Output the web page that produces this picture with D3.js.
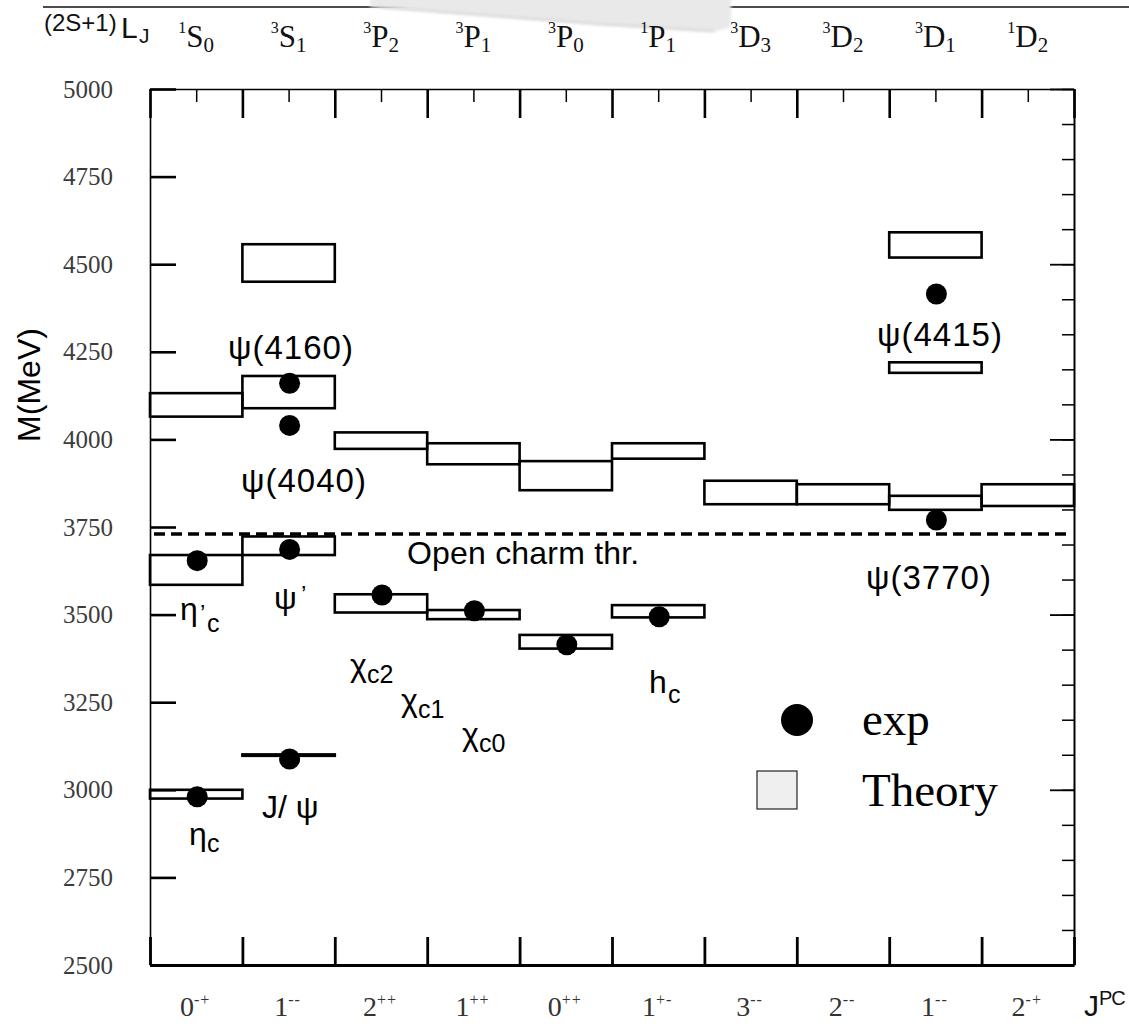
<!DOCTYPE html>
<html>
<head>
<meta charset="utf-8">
<script src="https://cdn.jsdelivr.net/npm/d3@7/dist/d3.min.js"></script>
<style>
  html, body { margin: 0; padding: 0; background: #fff; }
  svg { display: block; }
</style>
</head>
<body>
<svg id="chart" width="1129" height="1024"></svg>
<script>
// Charmonium spectrum: measured masses (dots) against predicted ranges (boxes)

// spectroscopic header: ^(2S+1) L _J
const waveSup = ["1", "3", "3", "3", "3", "1", "3", "3", "3", "1"];
const waveL   = ["S", "S", "P", "P", "P", "P", "D", "D", "D", "D"];
const waveJ   = ["0", "1", "2", "1", "0", "1", "3", "2", "1", "2"];

// J^PC labels along the bottom
const jpcJ  = ["0", "1", "2", "1", "0", "1", "3", "2", "1", "2"];
const jpcPC = ["-+", "--", "++", "++", "++", "+-", "--", "--", "--", "-+"];

// mass axis (MeV)
const yTicks = [2500, 2750, 3000, 3250, 3500, 3750, 4000, 4250, 4500, 4750, 5000];
const yMinorTicks = d3.range(2500, 5001, 100);
const yMajorRight = [2500, 3000, 3500, 4000, 4500, 5000];

// predicted mass ranges: [column, low, high]
const theory = [
  [0, 2975, 3000], [0, 3585, 3670], [0, 4065, 4132],
  [1, 3097, 3101], [1, 3670, 3723], [1, 4089, 4181], [1, 4450, 4557],
  [2, 3506, 3558], [2, 3973, 4020],
  [3, 3487, 3513], [3, 3929, 3989],
  [4, 3403, 3442], [4, 3855, 3938],
  [5, 3492, 3527], [5, 3945, 3989],
  [6, 3815, 3882],
  [7, 3815, 3872],
  [8, 3799, 3839], [8, 4190, 4220], [8, 4519, 4591],
  [9, 3810, 3872]
];

// measured states: column and mass
const expCol  = [0, 0, 1, 1, 1, 1, 2, 3, 4, 5, 8, 8];
const expMass = [2980, 3654, 3088, 3686, 4040, 4160, 3556, 3511, 3414, 3494, 3770, 4415];

const openCharm = 3730;

const SERIF = '"Liberation Serif", "Times New Roman", Times, serif';
const SANS = '"Liberation Sans", Arial, Helvetica, sans-serif';

const svg = d3.select("#chart");

const x = d3.scaleLinear().domain([0, 10]).range([150, 1074]);
const y = d3.scaleLinear().domain([2500, 5000]).range([965, 89]);
const cx = i => x(i + 0.5);

// top rule with a faint shadow across it
const defs = svg.append("defs");
defs.append("filter").attr("id", "soft")
  .append("feGaussianBlur").attr("stdDeviation", 1.8);
svg.append("line")
  .attr("x1", 43).attr("x2", 1129).attr("y1", 7).attr("y2", 7)
  .attr("stroke", "#111").attr("stroke-width", 1.6);
svg.append("path")
  .attr("d", "M370,-4 L731,-4 L731,27 L714,32 L600,25 L470,15 L370,7 Z")
  .attr("fill", "#e9e9e9").attr("filter", "url(#soft)");
svg.append("path")
  .attr("d", "M378,7 L470,14 L600,24 L714,31")
  .attr("fill", "none").attr("stroke", "#cfcfcf").attr("stroke-width", 1.5)
  .attr("filter", "url(#soft)");

// header: (2S+1)L_J
const hdr = svg.append("text").style("font-family", SANS).attr("fill", "#111");
hdr.append("tspan").attr("x", 44).attr("y", 31).attr("font-size", 24).text("(2S+1)");
hdr.append("tspan").attr("x", 121).attr("y", 38).attr("font-size", 30).text("L");
hdr.append("tspan").attr("x", 139).attr("y", 43).attr("font-size", 21).text("J");

// spectroscopic labels per column
const waves = svg.append("g").style("font-family", SERIF).attr("fill", "#111");
d3.range(10).forEach(i => {
  const t = waves.append("text").attr("x", cx(i)).attr("y", 33).attr("text-anchor", "middle")
    .style("font-family", SERIF);
  t.append("tspan").attr("font-size", 16).text(waveSup[i]);
  t.append("tspan").attr("font-size", 31).attr("dy", 14).text(waveL[i]);
  t.append("tspan").attr("font-size", 21).attr("dy", 5).text(waveJ[i]);
});

// axes
function styleAxis(g, w) {
  g.selectAll(".domain").attr("stroke", "#000").attr("stroke-width", w);
  g.selectAll(".tick line").attr("stroke", "#000");
}

const axLeft = svg.append("g").attr("transform", "translate(150,0)")
  .call(d3.axisLeft(y).tickValues(yTicks).tickSize(-26).tickSizeOuter(0).tickPadding(37)
    .tickFormat(d3.format("d")));
styleAxis(axLeft, 1.6);
axLeft.selectAll(".tick line").attr("stroke-width", 2.6);
axLeft.selectAll(".tick text")
  .style("font-family", SERIF).style("font-size", "25px")
  .attr("fill", "#3c3c3c").attr("dy", "0.32em");

const axRight = svg.append("g").attr("transform", "translate(1074,0)");
axRight.append("g")
  .call(d3.axisRight(y).tickValues(yMinorTicks).tickSize(-12).tickSizeOuter(0).tickFormat(""))
  .call(g => styleAxis(g, 2))
  .selectAll(".tick line").attr("stroke-width", 1.5);
axRight.append("g")
  .call(d3.axisRight(y).tickValues(yMajorRight).tickSize(-24).tickSizeOuter(0).tickFormat(""))
  .call(g => g.select(".domain").remove())
  .selectAll(".tick line").attr("stroke", "#000").attr("stroke-width", 1.8);

const axTop = svg.append("g").attr("transform", "translate(0,89)");
axTop.append("g")
  .call(d3.axisTop(x).tickValues(d3.range(0.5, 10, 1)).tickSize(-13).tickSizeOuter(0).tickFormat(""))
  .call(g => styleAxis(g, 1.6))
  .selectAll(".tick line").attr("stroke-width", 1.5);
axTop.append("g")
  .call(d3.axisTop(x).tickValues(d3.range(0, 11)).tickSize(-29).tickSizeOuter(0).tickFormat(""))
  .call(g => g.select(".domain").remove())
  .selectAll(".tick line").attr("stroke", "#000").attr("stroke-width", 2.6);

const axBottom = svg.append("g").attr("transform", "translate(0,965)")
  .call(d3.axisBottom(x).tickValues(d3.range(0, 11)).tickSize(-28).tickSizeOuter(0).tickFormat(""));
styleAxis(axBottom, 3);
axBottom.selectAll(".tick line").attr("stroke-width", 2.8);

// J^PC labels
const jpc = svg.append("g").style("font-family", SERIF).attr("fill", "#333");
d3.range(10).forEach(i => {
  const t = jpc.append("text").attr("x", cx(i) - 1).attr("y", 1016).attr("text-anchor", "middle")
    .style("font-family", SERIF);
  t.append("tspan").attr("font-size", 28).text(jpcJ[i]);
  t.append("tspan").attr("font-size", 16).attr("dy", -11).attr("letter-spacing", 1).text(jpcPC[i]);
});
const jpcTitle = svg.append("text").style("font-family", SANS).attr("fill", "#111");
jpcTitle.append("tspan").attr("x", 1084).attr("y", 1016).attr("font-size", 30).text("J");
jpcTitle.append("tspan").attr("font-size", 20).attr("dy", -11).attr("letter-spacing", -1).text("PC");

// y title
svg.append("text").style("font-family", SANS)
  .attr("transform", "translate(40,385) rotate(-90)")
  .attr("text-anchor", "middle").attr("font-size", 32).attr("fill", "#000")
  .text("M(MeV)");

// open-charm threshold
svg.append("line")
  .attr("x1", 154).attr("x2", 1072).attr("y1", y(openCharm)).attr("y2", y(openCharm))
  .attr("stroke", "#000").attr("stroke-width", 3.6).attr("stroke-dasharray", "11,6");

// theory boxes
svg.append("g").selectAll("rect").data(theory).join("rect")
  .attr("x", d => x(d[0])).attr("width", x(1) - x(0))
  .attr("y", d => y(d[2])).attr("height", d => y(d[1]) - y(d[2]))
  .attr("fill", "none").attr("stroke", "#000").attr("stroke-width", 2.6);

// measured states
svg.append("g").selectAll("circle").data(expMass).join("circle")
  .attr("cx", (d, i) => cx(expCol[i]) + 1).attr("cy", d => y(d)).attr("r", 10.5)
  .attr("fill", "#000");

// state names
const names = svg.append("g").style("font-family", SANS).attr("fill", "#000");
function label(xp, yp, main, size, spacing) {
  return names.append("text").attr("x", xp).attr("y", yp).attr("font-size", size)
    .attr("letter-spacing", spacing || 0).style("font-family", SANS).text(main);
}
function part(xp, yp, txt, size) {
  return names.append("text").attr("x", xp).attr("y", yp).attr("font-size", size)
    .style("font-family", SANS).text(txt);
}
label(228, 359, "ψ(4160)", 33, 1);
label(241, 492, "ψ(4040)", 33, 1);
label(877, 346, "ψ(4415)", 33, 1);
label(866, 589, "ψ(3770)", 33, 1);
label(407, 564, "Open charm thr.", 32, 0.2);

// eta'_c
part(180, 620, "η", 32);
part(200, 622, "’", 24);
part(207, 632, "c", 25);
// psi'
part(274, 609, "ψ", 32);
part(301, 603, "’", 24);
// chi_cJ
part(350, 676, "χ", 32); part(367, 683, "c2", 25);
part(401, 711, "χ", 32); part(418, 718, "c1", 25);
part(462, 745, "χ", 32); part(479, 752, "c0", 25);
// h_c
part(649, 693, "h", 32); part(668, 703, "c", 25);
// eta_c
part(189, 845, "η", 32); part(207, 852, "c", 25);
// J/psi
label(262, 818, "J/ ψ", 32, 0);

// legend
const lg = svg.append("g");
lg.append("circle").attr("cx", 797).attr("cy", 720).attr("r", 16).attr("fill", "#000");
lg.append("rect").attr("x", 757).attr("y", 771).attr("width", 40).attr("height", 38)
  .attr("fill", "#efefef").attr("stroke", "#222").attr("stroke-width", 1.2);
lg.append("text").style("font-family", SERIF).attr("x", 862).attr("y", 735)
  .attr("font-size", 47).attr("fill", "#000").text("exp");
lg.append("text").style("font-family", SERIF).attr("x", 862).attr("y", 806)
  .attr("font-size", 47).attr("fill", "#000").text("Theory");
</script>
</body>
</html>
